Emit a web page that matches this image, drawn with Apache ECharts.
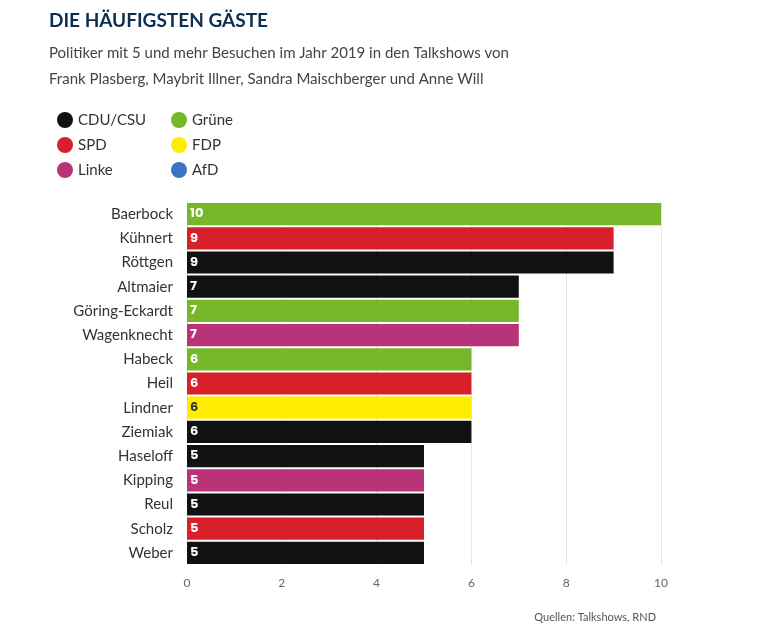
<!DOCTYPE html>
<html><head><meta charset="utf-8">
<script src="https://cdn.jsdelivr.net/npm/echarts@6/dist/echarts.min.js"></script>
<style>body{margin:0;background:#fff}#c{width:782px;height:640px}</style>
</head><body><div id="c"></div>
<script>
const names = ['Baerbock','Kühnert','Röttgen','Altmaier','Göring-Eckardt','Wagenknecht','Habeck','Heil','Lindner','Ziemiak','Haseloff','Kipping','Reul','Scholz','Weber']
const visits = [10,9,9,7,7,7,6,6,6,6,5,5,5,5,5]
const party = ['Grüne','SPD','CDU/CSU','CDU/CSU','Grüne','Linke','Grüne','SPD','FDP','CDU/CSU','CDU/CSU','Linke','CDU/CSU','SPD','CDU/CSU']
const parties = ['CDU/CSU','SPD','Linke','Grüne','FDP','AfD']
const colors = {'CDU/CSU':'#111111','SPD':'#d7202a','Linke':'#b93379','Grüne':'#77b82b','FDP':'#ffed00','AfD':'#3b74c5'}

const chart = echarts.init(document.getElementById('c'))
const series = parties.map(p => ({
  name: p, type: 'bar', stack: 'all', barCategoryGap: 2,
  itemStyle: {color: colors[p]},
  label: {show: true, position: 'insideLeft', offset: [-2, 0], color: p === 'FDP' ? '#333' : '#fff',
    fontFamily: 'Poppins, Lato, sans-serif', fontSize: 13, fontWeight: 'bold',
    formatter: v => v.value == null ? '' : v.value},
  data: names.map((n, i) => party[i] === p ? visits[i] : null)
}))
const legendBase = {orient: 'vertical', icon: 'circle', itemWidth: 16, itemHeight: 16, itemGap: 9,
  textStyle: {fontFamily: 'Lato, sans-serif', fontSize: 15, color: '#333'}, selectedMode: false}
chart.setOption({
  title: {text: 'DIE HÄUFIGSTEN GÄSTE', left: 44, top: 6,
    textStyle: {fontFamily: 'Lato, sans-serif', fontSize: 19, fontWeight: 'bold', color: '#0e2d52'},
    subtext: 'Politiker mit 5 und mehr Besuchen im Jahr 2019 in den Talkshows von\nFrank Plasberg, Maybrit Illner, Sandra Maischberger und Anne Will',
    subtextStyle: {fontFamily: 'Lato, sans-serif', fontSize: 15, color: '#444', lineHeight: 26}, itemGap: 10},
  legend: [
    Object.assign({left: 52, top: 107, data: ['CDU/CSU','SPD','Linke']}, legendBase),
    Object.assign({left: 166, top: 107, data: ['Grüne','FDP','AfD']}, legendBase)
  ],
  graphic: [{type: 'text', right: 126, top: 612,
    style: {text: 'Quellen: Talkshows, RND', font: '11px Lato, sans-serif', fill: '#555'}}],
  grid: {left: 187, right: 121, top: 202, bottom: 75},
  xAxis: {type: 'value', min: 0, max: 10, interval: 2,
    axisLabel: {color: '#666', fontSize: 12, margin: 12, fontFamily: 'Lato, sans-serif'},
    splitLine: {lineStyle: {color: '#e6e6e6'}}},
  yAxis: {type: 'category', data: names, inverse: true,
    axisLine: {show: false}, axisTick: {show: false},
    axisLabel: {color: '#333', fontSize: 15, margin: 14, fontFamily: 'Lato, sans-serif'}},
  series
})
</script></body></html>
